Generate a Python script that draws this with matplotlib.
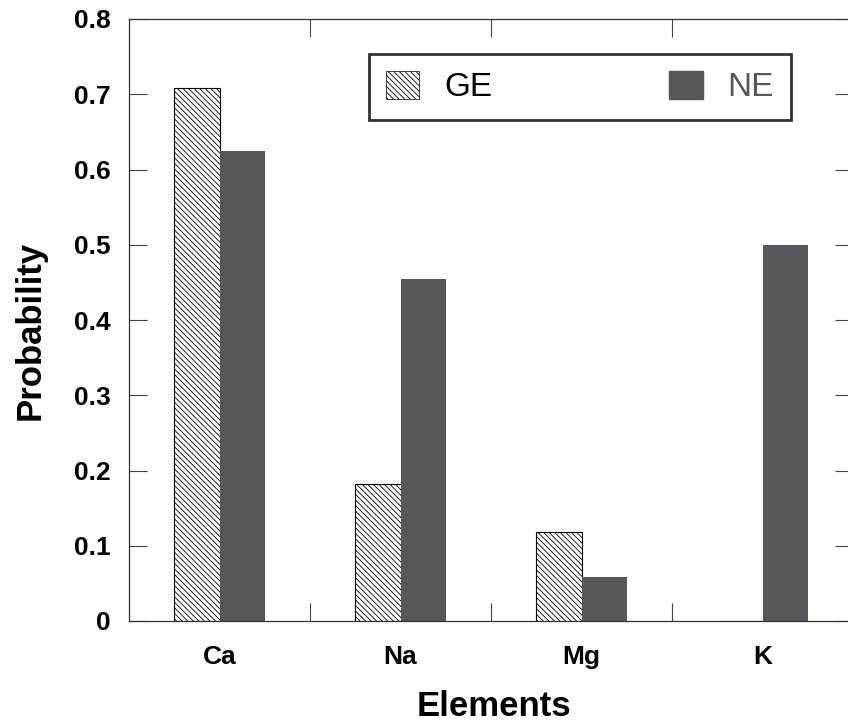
import matplotlib
matplotlib.use("Agg")
import matplotlib.pyplot as plt
import numpy as np
from matplotlib.patches import Patch

# values
elements = ["Ca", "Na", "Mg", "K"]
ge = [0.708, 0.182, 0.118, 0.0]
ne = [0.625, 0.455, 0.059, 0.500]
yticks = [0, 0.1, 0.2, 0.3, 0.4, 0.5, 0.6, 0.7, 0.8]
ytick_labels = ["0", "0.1", "0.2", "0.3", "0.4", "0.5", "0.6", "0.7", "0.8"]

dark = "#575759"
hatch = '\\' * 6
plt.rcParams['font.family'] = ['Liberation Sans', 'DejaVu Sans']
plt.rcParams['hatch.linewidth'] = 0.6
plt.rcParams['hatch.color'] = 'black'

fig = plt.figure(figsize=(8.48, 7.25), dpi=100)
ax = fig.add_axes([129 / 848, 1 - 621 / 725, 724 / 848, 602 / 725])

x = np.arange(len(elements))
w = 0.254
ax.bar(x - w / 2, ge, w, color='white', edgecolor='black', linewidth=0.8,
       hatch=hatch, label='GE')
ax.bar(x + w / 2, ne, w, color=dark, edgecolor=dark, linewidth=0, label='NE')

ax.set_xlim(-0.5, 3.5)
ax.set_ylim(0, 0.8)
ax.set_yticks(yticks)
ax.set_yticklabels(ytick_labels, fontsize=19, fontweight='bold')
ax.set_xticks(x)
ax.set_xticklabels(elements, fontsize=19, fontweight='bold')
ax.set_xticks(x[:-1] + 0.5, minor=True)

ax.tick_params(axis='y', which='major', direction='in', length=13, width=0.8,
               right=True, pad=13, color='#444444')
ax.tick_params(axis='x', which='major', length=0, pad=17)
ax.tick_params(axis='x', which='minor', direction='in', length=13, width=0.8,
               top=True, bottom=True, color='#444444')
for s in ax.spines.values():
    s.set_linewidth(0.9)
    s.set_color('#333333')

ax.set_ylabel("Probability", fontsize=25, fontweight='bold', va='center')
ax.set_xlabel("Elements", fontsize=25, fontweight='bold', va='center')
ax.yaxis.set_label_coords((30 - 129) / 724, (621 - 330) / 602)
ax.xaxis.set_label_coords((494 - 129) / 724, (621 - 707) / 602)

handles = [Patch(facecolor='white', edgecolor='black', hatch=hatch, linewidth=0.5),
           Patch(facecolor=dark, edgecolor=dark)]
leg = ax.legend(handles, ["GE", "NE"], loc='center',
                bbox_to_anchor=((580 - 129) / 724, (621 - 87) / 602),
                ncol=2, fontsize=24, frameon=True, fancybox=False,
                handlelength=1.0, handleheight=0.95, handletextpad=0.75,
                columnspacing=5.3, borderpad=0.5, edgecolor='black')
leg.get_frame().set_linewidth(2)
leg.get_texts()[1].set_color(dark)

fig.savefig("out.png", dpi=100)
